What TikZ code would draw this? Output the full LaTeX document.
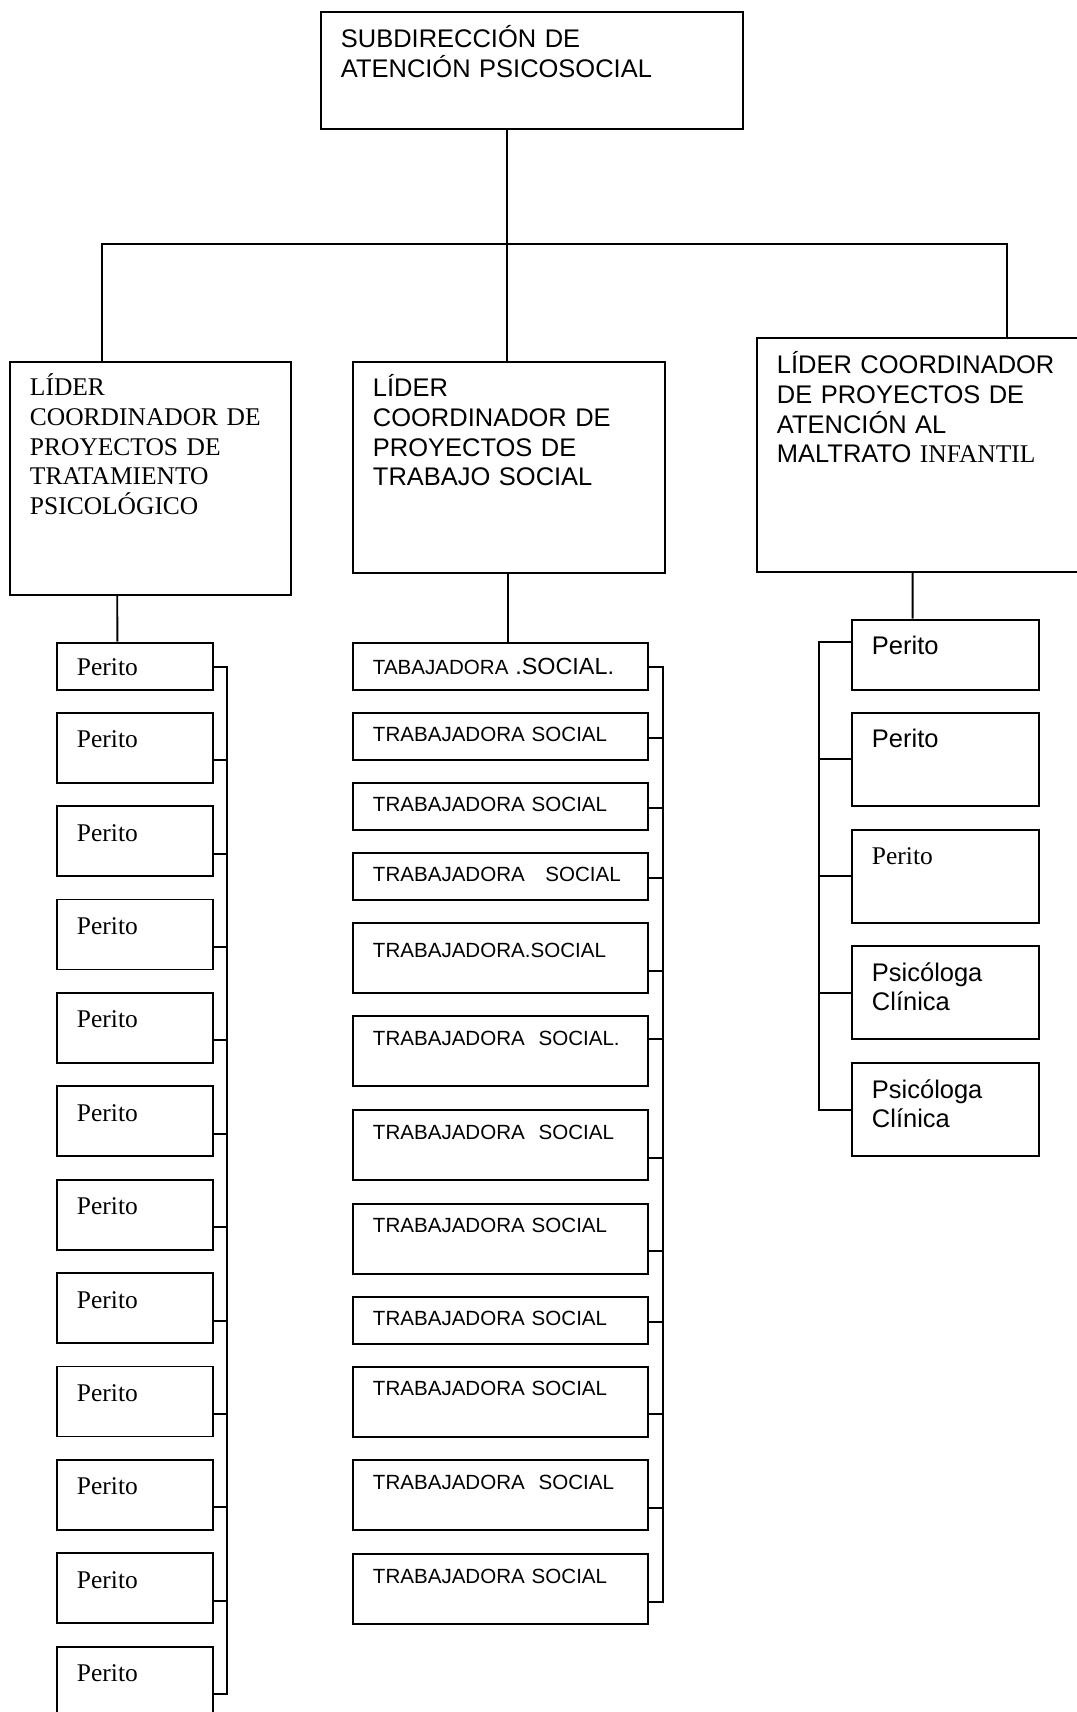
\documentclass[tikz,border=0pt]{standalone}
\usepackage{fontspec}
\setmainfont{Liberation Serif}
\setsansfont{Liberation Sans}

\begin{document}
\begin{tikzpicture}[
  x=0.02cm, y=-0.02cm,
  line width=1.1pt,
  box/.style={draw=black, line width=1.1pt, anchor=north west, inner xsep=0.4cm, inner ysep=0pt, align=left, font={\fontsize{14.5}{16.8}\selectfont\sffamily}},
  serif/.style={font={\fontsize{14.5}{16.8}\selectfont\rmfamily}},
  perito/.style={box, serif, text width=2.32cm, text height=0.7cm, text depth=0.7cm},
  trabajo/.style={box, font={\fontsize{11.7}{14}\selectfont\sffamily}, text width=5.1cm, text height=0.58cm, text depth=0.82cm},
  corto/.style={text depth=0.36cm},
  apoyo/.style={box, text width=2.94cm, text height=0.7cm, text depth=1.16cm}
]

\useasboundingbox (0,0) rectangle (1076,1712);

% Subdireccion
\node[box, text width=7.64cm, text height=0.72cm, text depth=1.62cm] (sub) at (320,11) {SUBDIRECCIÓN DE\\ATENCIÓN PSICOSOCIAL};

% Leaders
\node[box, serif, text width=4.82cm, text height=0.68cm, text depth=3.98cm] (lidTrat) at (9,361) {LÍDER\\COORDINADOR DE\\PROYECTOS DE\\TRATAMIENTO\\PSICOLÓGICO};
\node[box, text width=5.44cm, text height=0.7cm, text depth=3.52cm] (lidTS) at (352,361) {LÍDER\\COORDINADOR DE\\PROYECTOS DE\\TRABAJO SOCIAL};
\node[box, text width=6.0cm, text height=0.72cm, text depth=3.96cm] (lidMI) at (756,337) {LÍDER COORDINADOR\\DE PROYECTOS DE\\ATENCIÓN AL\\MALTRATO {\rmfamily INFANTIL}};

% Bus
\coordinate (bus) at (507,243.7);
\draw (sub.south -| bus) -- (lidTS.north -| bus);
\draw ([xshift=1.866cm]lidTrat.north west) |- (bus) -| ([xshift=5.014cm]lidMI.north west);

% Peritos (tratamiento)
\node[perito, text height=0.66cm, text depth=0.28cm] (p1) at (56,641.7) {Perito};
\foreach \k in {2,...,12} {
  \node[perito] (p\k) at (56,{711.7+(\k-2)*93.4}) {Perito};
}

% Trabajadoras sociales
\node[trabajo, text height=0.64cm, text depth=0.3cm] (t1) at (352,641.7) {TABAJADORA {\fontsize{13.3}{14}\selectfont.SOCIAL.}};
\node[trabajo, corto] (t2) at (352,712) {TRABAJADORA SOCIAL};
\node[trabajo, corto] (t3) at (352,782) {TRABAJADORA SOCIAL};
\node[trabajo, corto] (t4) at (352,852) {TRABAJADORA~~~SOCIAL};
\node[trabajo, text height=0.68cm, text depth=0.72cm] (t5) at (352,922.3) {TRABAJADORA.SOCIAL};
\node[trabajo] (t6) at (352,1015.3) {TRABAJADORA~~SOCIAL.};
\node[trabajo] (t7) at (352,1109.4) {TRABAJADORA~~SOCIAL};
\node[trabajo] (t8) at (352,1202.7) {TRABAJADORA SOCIAL};
\node[trabajo, corto] (t9) at (352,1296) {TRABAJADORA SOCIAL};
\node[trabajo] (t10) at (352,1365.8) {TRABAJADORA SOCIAL};
\node[trabajo] (t11) at (352,1459.1) {TRABAJADORA~~SOCIAL};
\node[trabajo] (t12) at (352,1553.2) {TRABAJADORA SOCIAL};

% Maltrato infantil
\node[apoyo, text depth=0.7cm] (r1) at (851,618.6) {Perito};
\node[apoyo] (r2) at (851,711.6) {Perito};
\node[apoyo, serif] (r3) at (851,828.7) {Perito};
\node[apoyo] (r4) at (851,945.2) {Psicóloga\\Clínica};
\node[apoyo] (r5) at (851,1062.3) {Psicóloga\\Clínica};

% Leader to first box
\draw ([xshift=2.166cm]lidTrat.south west) -- ([xshift=1.226cm]p1.north west);
\draw ([xshift=3.114cm]lidTS.south west) -- ([xshift=3.114cm]t1.north west);
\draw ([xshift=3.134cm]lidMI.south west) -- ([xshift=1.234cm]r1.north west);

% Brackets
\coordinate (brL) at (226.8,0);
\coordinate (brT) at (663.4,0);
\coordinate (brR) at (819,0);

\foreach \k in {1,...,12} {
  \coordinate (pk\k) at ([yshift=0.468cm]p\k.south east);
}
\draw (pk1) -| (brL |- pk12) -- (pk12);
\foreach \k in {2,...,11} {
  \draw (pk\k) -- (pk\k -| brL);
}

\foreach \k in {1,2,3,4,5,7,8,9,10,11,12} {
  \coordinate (tk\k) at ([yshift=0.468cm]t\k.south east);
}
\coordinate (tk6) at ([yshift=-0.468cm]t6.north east);
\draw (tk1) -| (brT |- tk12) -- (tk12);
\foreach \k in {2,...,11} {
  \draw (tk\k) -- (tk\k -| brT);
}

\coordinate (rk1) at ([yshift=-0.468cm]r1.north west);
\draw (rk1) -| (brR |- r5.west) -- (r5.west);
\foreach \k in {2,3,4} {
  \draw (r\k.west) -- (r\k.west -| brR);
}

\end{tikzpicture}
\end{document}
